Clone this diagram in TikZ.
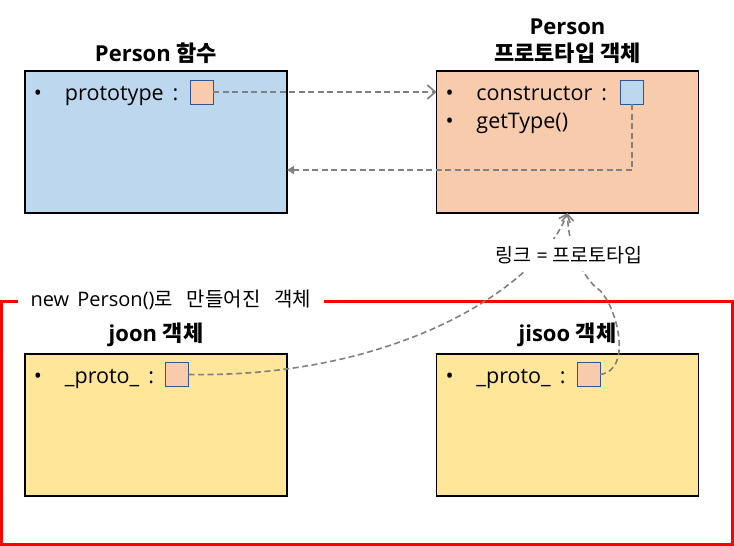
\documentclass[tikz,border=0pt]{standalone}
\usepackage{fontspec}
\setmainfont{Open Sans}
\newfontfamily\kr{Noto Sans CJK KR}
\usetikzlibrary{positioning,arrows.meta,calc}
\definecolor{fnblue}{HTML}{BDD7EE}
\definecolor{protoorange}{HTML}{F8CBAD}
\definecolor{objyellow}{HTML}{FFE699}
\definecolor{slotborder}{HTML}{2F5597}
\definecolor{linkgray}{HTML}{808080}
\newcommand{\bul}{\makebox[31pt][l]{•}}
\newcommand{\colsep}{\hspace{9pt}:}

\begin{document}
\begin{tikzpicture}[x=1pt,y=-1pt,inner sep=0pt,outer sep=0pt]
        \tikzset{objbox/.style={draw,line width=1.2pt,shape=rectangle,minimum width=262pt,minimum height=142pt}}
        \tikzset{boxtitle/.style={align=center,font=\fontsize{22}{27}\selectfont\bfseries}}
        \tikzset{item/.style={anchor=base west,font=\fontsize{21.5}{26}\selectfont}}
        \tikzset{slot/.style={draw=slotborder,line width=0.9pt,minimum width=23pt,minimum height=24pt}}
        \tikzset{link/.style={draw=linkgray,line width=1.6pt,dash pattern=on 6pt off 3.5pt}}
        \tikzset{note/.style={fill=white,font=\fontsize{19.5}{23}\selectfont}}

        \useasboundingbox (0,0) rectangle (734,546);

        % frame round the new objects
        \draw[red,line width=3pt] (1.5,301.5) rectangle (732.5,544.5);
        \node[note,font=\fontsize{20}{24}\selectfont,inner xsep=13pt,inner ysep=3pt] (framelabel) at (171,300) {new\hspace{3pt} Person(){\kr 로}\hspace{14pt}{\kr 만들어진}\hspace{14pt}{\kr 객체}};

        % boxes
        \node[objbox,fill=fnblue] (fnbox) at (156,142) {};
        \node[objbox,fill=protoorange] (protobox) at (567.5,142) {};
        \node[objbox,fill=objyellow] (joonbox) at (156,425) {};
        \node[objbox,fill=objyellow] (jisoobox) at (567.5,425) {};

        \node[boxtitle,above=7pt of fnbox] (fntitle) {Person {\kr 함수}};
        \node[boxtitle,above=7pt of protobox] (prototitle) {Person\\{\kr 프로토타입 객체}};
        \node[boxtitle,above=7pt of joonbox] (joontitle) {joon {\kr 객체}};
        \node[boxtitle,above=7pt of jisoobox] (jisootitle) {jisoo {\kr 객체}};

        % items
        \node[item] (fnproto) at ([shift={(9,29)}]fnbox.north west) {\bul prototype\colsep};
        \node[item] (ctor) at ([shift={(9,29)}]protobox.north west) {\bul constructor\colsep};
        \node[item] (gettype) at ([shift={(9,57.5)}]protobox.north west) {\bul getType()};
        \node[item] (joonproto) at ([shift={(9,29)}]joonbox.north west) {\bul \_proto\_\colsep};
        \node[item] (jisooproto) at ([shift={(9,29)}]jisoobox.north west) {\bul \_proto\_\colsep};

        \node[slot,fill=protoorange] (fnslot) at ([shift={(176.5,21)}]fnbox.north west) {};
        \node[slot,fill=fnblue] (ctorslot) at ([shift={(195.5,21)}]protobox.north west) {};
        \node[slot,fill=protoorange] (joonslot) at ([shift={(152,20.5)}]joonbox.north west) {};
        \node[slot,fill=protoorange] (jisooslot) at ([shift={(152,20.5)}]jisoobox.north west) {};

        % links
        \draw[link,-{Straight Barb[length=8pt,width=14pt]}] (fnslot.east) -- (protobox.west |- fnslot.east);
        \draw[link,-{Triangle[length=7pt,width=8pt]}] (ctorslot.south) |- ([yshift=-28pt]fnbox.east);
        \draw[link,-{Straight Barb[length=7pt,width=12pt]}] (joonslot.east) .. controls (400,378) and (540,285) .. (protobox.south);
        \draw[link,-{Straight Barb[length=7pt,width=12pt]}] (jisooslot.east) .. controls (635,370) and (615,300) .. (597,288) .. controls (585,279) and (568,250) .. (protobox.south);

        \node[note,inner xsep=5pt,inner ysep=7pt] (linklabel) at (569,255) {{\kr 링크} = {\kr 프로토타입}};
\end{tikzpicture}
\end{document}
